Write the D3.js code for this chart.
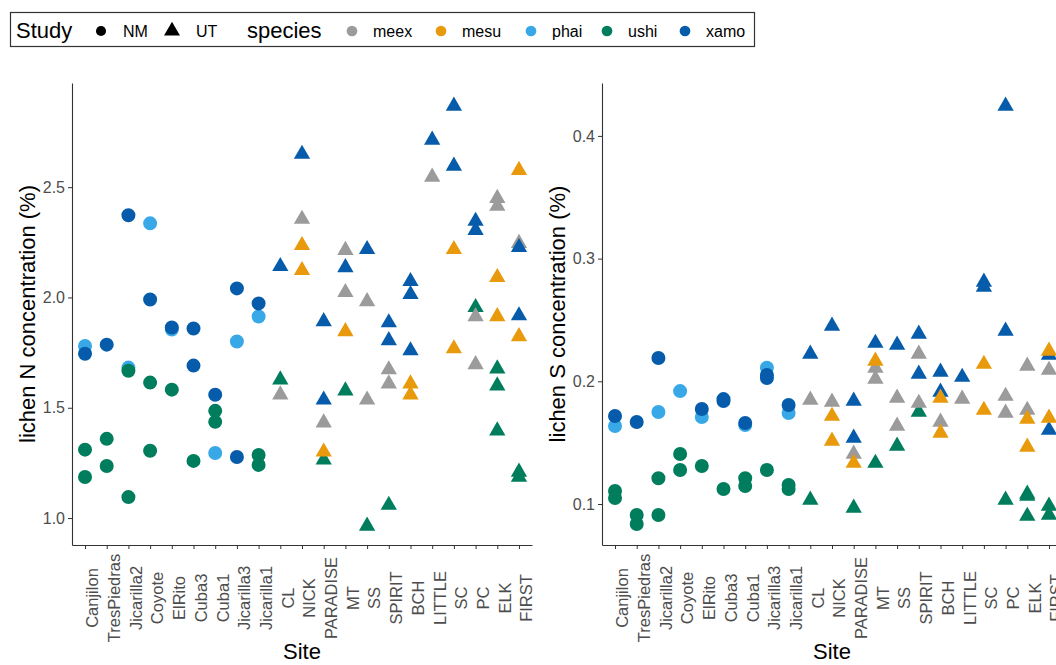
<!DOCTYPE html>
<html>
<head>
<meta charset="utf-8">
<script src="https://cdn.jsdelivr.net/npm/d3@7"></script>
<style>
  body { margin: 0; background: #fff; }
  svg { display: block; font-family: "Liberation Sans", Arial, sans-serif; }
</style>
</head>
<body>
<div id="chart"></div>
<script>
// sites in axis order, first nine are the NM study, the rest UT
const sites = ["Canjilon", "TresPiedras", "Jicarilla2", "Coyote", "ElRito", "Cuba3", "Cuba1",
  "Jicarilla3", "Jicarilla1", "CL", "NICK", "PARADISE", "MT", "SS", "SPIRIT", "BCH", "LITTLE",
  "SC", "PC", "ELK", "FIRST"];
const nmSites = sites.slice(0, 9);
const species = ["meex", "mesu", "phai", "ushi", "xamo"];
const speciesColors = ["#9b9b9b", "#e89a0c", "#38a9e6", "#007d5c", "#065caa"];
const drawOrder = ["phai", "ushi", "meex", "xamo", "mesu"];
const nTicks = [1.0, 1.5, 2.0, 2.5];
const sTicks = [0.1, 0.2, 0.3, 0.4];

// lichen N concentration (%)  [site, species, value]
const nData = [
  ["Canjilon", "phai", 1.78], ["Canjilon", "xamo", 1.745], ["Canjilon", "ushi", 1.31], ["Canjilon", "ushi", 1.186],
  ["TresPiedras", "xamo", 1.786], ["TresPiedras", "ushi", 1.359], ["TresPiedras", "ushi", 1.236],
  ["Jicarilla2", "xamo", 2.373], ["Jicarilla2", "phai", 1.682], ["Jicarilla2", "ushi", 1.668], ["Jicarilla2", "ushi", 1.095],
  ["Coyote", "phai", 2.336], ["Coyote", "xamo", 1.991], ["Coyote", "ushi", 1.614], ["Coyote", "ushi", 1.305],
  ["ElRito", "xamo", 1.864], ["ElRito", "phai", 1.855], ["ElRito", "ushi", 1.582],
  ["Cuba3", "xamo", 1.859], ["Cuba3", "xamo", 1.691], ["Cuba3", "ushi", 1.259],
  ["Cuba1", "xamo", 1.559], ["Cuba1", "ushi", 1.486], ["Cuba1", "ushi", 1.436], ["Cuba1", "phai", 1.295],
  ["Jicarilla3", "xamo", 2.041], ["Jicarilla3", "phai", 1.80], ["Jicarilla3", "xamo", 1.277],
  ["Jicarilla1", "xamo", 1.973], ["Jicarilla1", "phai", 1.914], ["Jicarilla1", "ushi", 1.286], ["Jicarilla1", "ushi", 1.241],
  ["CL", "xamo", 2.15], ["CL", "ushi", 1.636], ["CL", "meex", 1.568],
  ["NICK", "xamo", 2.659], ["NICK", "meex", 2.364], ["NICK", "mesu", 2.245], ["NICK", "mesu", 2.132],
  ["PARADISE", "xamo", 1.90], ["PARADISE", "xamo", 1.545], ["PARADISE", "meex", 1.441], ["PARADISE", "mesu", 1.309], ["PARADISE", "ushi", 1.273],
  ["MT", "meex", 2.223], ["MT", "xamo", 2.145], ["MT", "meex", 2.032], ["MT", "mesu", 1.855], ["MT", "ushi", 1.586],
  ["SS", "xamo", 2.227], ["SS", "meex", 1.991], ["SS", "meex", 1.545], ["SS", "ushi", 0.973],
  ["SPIRIT", "xamo", 1.895], ["SPIRIT", "xamo", 1.814], ["SPIRIT", "meex", 1.682], ["SPIRIT", "meex", 1.618], ["SPIRIT", "ushi", 1.068],
  ["BCH", "xamo", 2.082], ["BCH", "xamo", 2.023], ["BCH", "xamo", 1.768], ["BCH", "mesu", 1.618], ["BCH", "mesu", 1.568],
  ["LITTLE", "xamo", 2.723], ["LITTLE", "meex", 2.555],
  ["SC", "xamo", 2.877], ["SC", "xamo", 2.605], ["SC", "mesu", 2.227], ["SC", "mesu", 1.777],
  ["PC", "xamo", 2.355], ["PC", "xamo", 2.314], ["PC", "ushi", 1.964], ["PC", "meex", 1.923], ["PC", "meex", 1.705],
  ["ELK", "meex", 2.459], ["ELK", "meex", 2.423], ["ELK", "mesu", 2.10], ["ELK", "mesu", 1.923], ["ELK", "ushi", 1.686], ["ELK", "ushi", 1.609], ["ELK", "ushi", 1.405],
  ["FIRST", "mesu", 2.586], ["FIRST", "meex", 2.255], ["FIRST", "xamo", 2.236], ["FIRST", "xamo", 1.927], ["FIRST", "mesu", 1.832], ["FIRST", "ushi", 1.218], ["FIRST", "ushi", 1.195]
];

// lichen S concentration (%)
const sData = [
  ["Canjilon", "xamo", 0.1717], ["Canjilon", "phai", 0.1636], ["Canjilon", "ushi", 0.1106], ["Canjilon", "ushi", 0.1049],
  ["TresPiedras", "xamo", 0.1668], ["TresPiedras", "ushi", 0.091], ["TresPiedras", "ushi", 0.0837],
  ["Jicarilla2", "xamo", 0.219], ["Jicarilla2", "phai", 0.175], ["Jicarilla2", "ushi", 0.121], ["Jicarilla2", "ushi", 0.091],
  ["Coyote", "phai", 0.192], ["Coyote", "ushi", 0.1407], ["Coyote", "ushi", 0.1277],
  ["ElRito", "xamo", 0.1774], ["ElRito", "phai", 0.1709], ["ElRito", "ushi", 0.131],
  ["Cuba3", "xamo", 0.1855], ["Cuba3", "xamo", 0.1840], ["Cuba3", "ushi", 0.1122],
  ["Cuba1", "xamo", 0.166], ["Cuba1", "phai", 0.1644], ["Cuba1", "ushi", 0.121], ["Cuba1", "ushi", 0.1147],
  ["Jicarilla3", "phai", 0.211], ["Jicarilla3", "xamo", 0.2051], ["Jicarilla3", "xamo", 0.2027], ["Jicarilla3", "ushi", 0.1277],
  ["Jicarilla1", "xamo", 0.1807], ["Jicarilla1", "phai", 0.1742], ["Jicarilla1", "ushi", 0.1155], ["Jicarilla1", "ushi", 0.1122],
  ["CL", "xamo", 0.2239], ["CL", "meex", 0.1864], ["CL", "ushi", 0.1049],
  ["NICK", "xamo", 0.2467], ["NICK", "meex", 0.1848], ["NICK", "mesu", 0.1733], ["NICK", "mesu", 0.153],
  ["PARADISE", "xamo", 0.1856], ["PARADISE", "xamo", 0.1554], ["PARADISE", "meex", 0.1424], ["PARADISE", "mesu", 0.135], ["PARADISE", "ushi", 0.0984],
  ["MT", "xamo", 0.2328], ["MT", "mesu", 0.2182], ["MT", "meex", 0.2125], ["MT", "meex", 0.2035], ["MT", "ushi", 0.135],
  ["SS", "xamo", 0.2312], ["SS", "meex", 0.188], ["SS", "meex", 0.1652], ["SS", "ushi", 0.1489],
  ["SPIRIT", "xamo", 0.2402], ["SPIRIT", "meex", 0.2239], ["SPIRIT", "xamo", 0.2076], ["SPIRIT", "meex", 0.1839], ["SPIRIT", "ushi", 0.1766],
  ["BCH", "xamo", 0.2092], ["BCH", "xamo", 0.1929], ["BCH", "mesu", 0.188], ["BCH", "meex", 0.1685], ["BCH", "mesu", 0.1595],
  ["LITTLE", "xamo", 0.2051], ["LITTLE", "meex", 0.1872],
  ["SC", "xamo", 0.2826], ["SC", "xamo", 0.2785], ["SC", "mesu", 0.2157], ["SC", "mesu", 0.1782],
  ["PC", "xamo", 0.426], ["PC", "xamo", 0.2426], ["PC", "meex", 0.1896], ["PC", "meex", 0.1758], ["PC", "ushi", 0.1049],
  ["ELK", "meex", 0.2141], ["ELK", "meex", 0.1782], ["ELK", "mesu", 0.1709], ["ELK", "mesu", 0.1481], ["ELK", "ushi", 0.1098], ["ELK", "ushi", 0.1081], ["ELK", "ushi", 0.0918],
  ["FIRST", "mesu", 0.2263], ["FIRST", "xamo", 0.2231], ["FIRST", "meex", 0.2108], ["FIRST", "mesu", 0.1717], ["FIRST", "xamo", 0.1619], ["FIRST", "ushi", 0.10], ["FIRST", "ushi", 0.0927]
];

const width = 1056, height = 665;
const plotTop = 83, plotBottom = 545;
const axisColor = "#333333", tickText = "#4d4d4d";

const color = d3.scaleOrdinal().domain(species).range(speciesColors);
const circle = d3.symbol(d3.symbolCircle, 154)();
const triangle = d3.symbol(d3.symbolTriangle, 115)();

const svg = d3.select("#chart").append("svg")
  .attr("width", width)
  .attr("height", height);

function panel(data, ticks, left, right, title, titleX) {
  const x = d3.scalePoint().domain(sites).range([left, right]).padding(0.6);
  const ext = d3.extent(data, d => d[2]);
  const pad = (ext[1] - ext[0]) * 0.05;
  const y = d3.scaleLinear().domain([ext[0] - pad, ext[1] + pad]).range([plotBottom, plotTop]);

  const g = svg.append("g");

  const yAxis = g.append("g")
    .attr("transform", `translate(${left},0)`)
    .call(d3.axisLeft(y).tickValues(ticks).tickFormat(d3.format(".1f")).tickSize(4).tickSizeOuter(0).tickPadding(3));
  yAxis.select(".domain").attr("stroke", axisColor).attr("stroke-width", 1.1);
  yAxis.selectAll(".tick line").attr("stroke", axisColor);
  yAxis.selectAll("text").attr("fill", tickText).attr("font-size", 16)
    .attr("font-family", "Liberation Sans, Arial, sans-serif");

  // site labels are centred under the axis, like ggplot with hjust = 0.5
  const xAxis = g.append("g")
    .attr("transform", `translate(0,${plotBottom})`)
    .call(d3.axisBottom(x).tickSize(4).tickSizeOuter(0));
  xAxis.select(".domain").attr("stroke", axisColor).attr("stroke-width", 1.1);
  xAxis.selectAll(".tick line").attr("stroke", axisColor);
  xAxis.selectAll("text")
    .attr("fill", tickText).attr("font-size", 16.5)
    .attr("font-family", "Liberation Sans, Arial, sans-serif")
    .attr("transform", "rotate(-90)")
    .attr("text-anchor", "middle")
    .attr("x", -53).attr("y", 0).attr("dy", "0.78em");

  // points
  const sorted = data.slice().sort((a, b) => drawOrder.indexOf(a[1]) - drawOrder.indexOf(b[1]));
  g.append("g").selectAll("path")
    .data(sorted)
    .enter().append("path")
    .attr("d", d => nmSites.includes(d[0]) ? circle : triangle)
    .attr("transform", d => `translate(${x(d[0])},${y(d[2]) + (nmSites.includes(d[0]) ? 0 : 2)})`)
    .attr("fill", d => color(d[1]));

  // titles
  g.append("text")
    .attr("transform", `translate(${titleX},${(plotTop + plotBottom) / 2}) rotate(-90)`)
    .attr("text-anchor", "middle")
    .attr("font-size", 22)
    .attr("fill", "#000")
    .text(title);

  g.append("text")
    .attr("x", (left + right) / 2)
    .attr("y", 659)
    .attr("text-anchor", "middle")
    .attr("font-size", 22)
    .attr("fill", "#000")
    .text("Site");
}

panel(nData, nTicks, 72, 532, "lichen N concentration (%)", 35);
panel(sData, sTicks, 602, 1062, "lichen S concentration (%)", 565);

// legend
const legend = svg.append("g");
legend.append("rect")
  .attr("x", 10.5).attr("y", 12.5).attr("width", 744).attr("height", 34)
  .attr("fill", "#fff").attr("stroke", "#333").attr("stroke-width", 1.2);

legend.append("text").attr("x", 16).attr("y", 38).attr("font-size", 22).text("Study");
legend.append("path").attr("d", d3.symbol(d3.symbolCircle, 80)()).attr("transform", "translate(101,31)");
legend.append("text").attr("x", 123).attr("y", 37).attr("font-size", 16).text("NM");
legend.append("path").attr("d", d3.symbol(d3.symbolTriangle, 110)()).attr("transform", "translate(172,31)");
legend.append("text").attr("x", 196).attr("y", 37).attr("font-size", 16).text("UT");
legend.append("text").attr("x", 247).attr("y", 38).attr("font-size", 22).text("species");

const legendX = [352, 441, 531, 607, 685];
legend.selectAll(".sp")
  .data(species)
  .enter().append("g")
  .attr("class", "sp")
  .each(function (d, i) {
    const item = d3.select(this);
    item.append("path").attr("d", d3.symbol(d3.symbolCircle, 90)())
      .attr("transform", `translate(${legendX[i]},31)`)
      .attr("fill", color(d));
    item.append("text").attr("x", legendX[i] + 21).attr("y", 37).attr("font-size", 16).text(d);
  });
</script>
</body>
</html>
